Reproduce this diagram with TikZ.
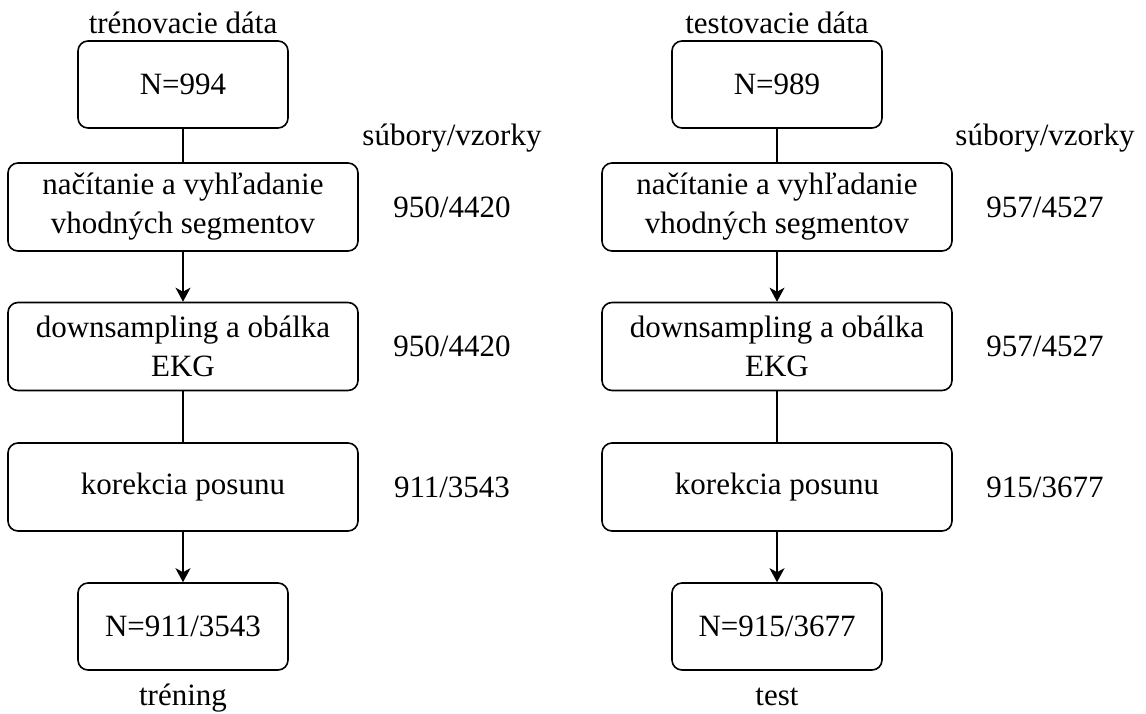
\documentclass[tikz,border=0pt]{standalone}
\usepackage{fontspec}
\setmainfont{Liberation Serif}
\usetikzlibrary{arrows.meta}
\begin{document}
\begin{tikzpicture}[x=0.5pt, y=-0.5pt, font=\fontsize{15.5}{19.5}\selectfont, line join=round, line cap=round,
        >={Stealth[length=7pt,width=7.5pt,inset=2pt]},
        box/.style={draw, line width=0.8pt, rounded corners=5pt, align=center, inner sep=0pt},
        small/.style={box, minimum width=105pt, minimum height=43.5pt},
        wide/.style={box, minimum width=175pt, minimum height=44pt}]
        \useasboundingbox (0,0) rectangle (1146,713);
        % trénovacie dáta
        \node[anchor=base] (ta) at (183,33) {trénovacie dáta};
        \node[small] (a1) at (183,84.5) {N=994};
        \node[wide] (a2) at (183,207) {načítanie a vyhľadanie\\vhodných segmentov};
        \node[wide] (a3) at (183,346.5) {downsampling a obálka\\EKG};
        \node[wide] (a4) at (183,487) {korekcia posunu};
        \node[small] (a5) at (183,626.5) {N=911/3543};
        \node[anchor=base] (tb) at (183,705) {tréning};
        \node (la) at (452,138) {súbory/vzorky};
        \node (l2) at (452,207) {950/4420};
        \node (l3) at (452,346.5) {950/4420};
        \node (l4) at (452,487) {911/3543};
        \draw[line width=0.8pt] (a1)--(a2) (a3)--(a4);
        \draw[line width=0.8pt,->] (a2)--(a3);
        \draw[line width=0.8pt,->] (a4)--(a5);
        % testovacie dáta
        \node[anchor=base] (sa) at (777,33) {testovacie dáta};
        \node[small] (b1) at (777,84.5) {N=989};
        \node[wide] (b2) at (777,207) {načítanie a vyhľadanie\\vhodných segmentov};
        \node[wide] (b3) at (777,346.5) {downsampling a obálka\\EKG};
        \node[wide] (b4) at (777,487) {korekcia posunu};
        \node[small] (b5) at (777,626.5) {N=915/3677};
        \node[anchor=base] (sb) at (777,705) {test};
        \node (ra) at (1045,138) {súbory/vzorky};
        \node (r2) at (1045,207) {957/4527};
        \node (r3) at (1045,346.5) {957/4527};
        \node (r4) at (1045,487) {915/3677};
        \draw[line width=0.8pt] (b1)--(b2) (b3)--(b4);
        \draw[line width=0.8pt,->] (b2)--(b3);
        \draw[line width=0.8pt,->] (b4)--(b5);
    \end{tikzpicture}
\end{document}
